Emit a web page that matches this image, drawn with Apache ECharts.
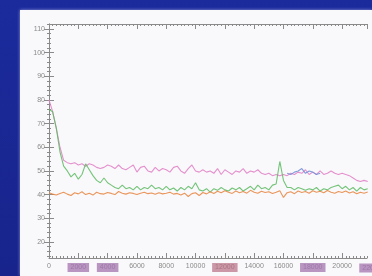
<!DOCTYPE html>
<html><head><meta charset="utf-8">
<script src="https://cdn.jsdelivr.net/npm/echarts@6/dist/echarts.min.js"></script>
<style>
html,body{margin:0;padding:0;width:372px;height:276px;overflow:hidden;background:linear-gradient(180deg,#1b2b9c 0%,#18248c 100%);}
#panel{position:absolute;left:20px;top:10px;width:352px;height:266px;background:#f9f9fb;box-shadow:0 0 3px rgba(220,220,255,0.6);}
#c{position:absolute;left:0;top:0;width:352px;height:266px;}
</style></head>
<body><div id="panel"><div id="c"></div></div>
<script>
// x positions (iterations)
const xs = [0,250,500,750,1000,1250,1500,1750,2000,2250,2500,2750,3000,3250,3500,3750,4000,4250,4500,4750,
5000,5250,5500,5750,6000,6250,6500,6750,7000,7250,7500,7750,8000,8250,8500,8750,9000,9250,9500,9750,
10000,10250,10500,10750,11000,11250,11500,11750,12000,12250,12500,12750,13000,13250,13500,13750,14000,14250,14500,14750,
15000,15250,15500,15750,16000,16250,16500,16750,17000,17250,17500,17750,18000,18250,18500,18750,19000,19250,19500,19750,
20000,20250,20500,20750,21000,21250,21500,21750];

const pinkVals = [80,75,68,60,54.5,53.5,53,53.5,52.5,53,
52,53,52.5,51.5,51,51.5,52.5,52,51,52.5,
51,50.5,51.5,52.5,49.5,51.5,52,50,49.5,51.5,
50,51,50.5,49.5,51.5,52,50,49,51,52.5,
50,49.5,50.5,49.5,50,49,51,48.5,50.5,49.5,
48.5,50,49.5,51,49,50,49.5,50.5,49,48.5,
49,48,48.5,48,48.5,48,49,48.5,49.5,49,
50.5,48.5,49.5,48.5,50,48.5,49,50,49,48.5,
49,48.5,48,47,46,45.5,46,45.5];

const greenVals = [76,75,68,58,52,50,47.5,49,46.5,48.5,
53,50.5,48,46,45,47,45,44,43,42.5,
44,42.5,43,42,43.5,42,43,42.5,44,42.5,
43,42,43.5,42,42.8,41.5,43,42,43.5,42.5,
45,42,41.5,42.5,41,42.5,41.8,43,42,41.5,
42.8,42,43,41.5,42.5,43.5,42,44,42.5,43,
42,44,44.5,54,46,43,43,42,43,42.5,
41.8,42.5,42,43,41.5,42.5,42,43,43.5,44,
42.5,43.5,42,43,41.5,43,42,42.5];

const orangeVals = [40.8,40.2,39.8,40.5,41.0,40.2,39.6,40.8,40.3,41.2,
40.0,40.6,39.8,41.0,40.4,40.2,40.9,40.5,40.0,41.3,
40.6,40.2,40.8,40.5,40.0,40.6,41.0,40.4,40.7,40.1,
40.8,40.3,40.6,41.0,40.2,40.5,39.8,40.6,39.2,40.4,
40.8,39.6,40.9,40.3,41.2,40.5,41.4,40.8,41.6,41.0,
40.5,41.5,40.8,41.3,40.6,41.8,41.0,40.6,41.4,40.9,
41.2,40.5,41.0,41.6,38.8,40.8,41.2,40.4,41.5,40.9,
41.3,40.6,41.6,41.0,41.4,40.8,41.7,41.0,40.6,41.3,
40.9,41.5,40.7,41.2,40.4,41.0,40.6,41.1];

const blueX = [16250,16500,16750,17000,17250,17500,17750,18000,18250,18500];
const blueVals = [49,48.5,49.5,50,51,49,50,49.5,48.5,49];

const yMajor = [20,30,40,50,60,70,80,90,100,110];
const yMinor = [14,16,18,20,22,24,26,28,30,32,34,36,38,40,42,44,46,48,50,52,54,56,58,60,62,64,66,68,70,72,74,76,78,80,82,84,86,88,90,92,94,96,98,100,102,104,106,108,110,112];
const xHighlight = {2000:'h',4000:'h',12000:'r',18000:'h'};

const pair = (xa, ya) => xa.map((x, i) => [x, ya[i]]);
const AX = '#8a8a8a';
const font = 'Liberation Sans';
const gridBox = {left:29, top:14, right:5, bottom:18};

const majorX = (pos, labels) => ({
  gridIndex:0, type:'value', position:pos, min:0, max:21700, interval:2000,
  axisLine:{show:true, lineStyle:{color:AX, width:1}},
  axisTick:{show:true, inside:true, length:5, lineStyle:{color:AX}},
  splitLine:{show:false},
  axisLabel: labels ? {
    show:true, showMaxLabel:false, fontSize:7, color:'#8a8a8a', fontFamily:font, margin:5,
    formatter: v => xHighlight[v] ? '{' + xHighlight[v] + '|' + v + '}' : String(v),
    rich:{
      h:{backgroundColor:'#b995c2', color:'#9d78a8', fontSize:7, padding:[1,3]},
      r:{backgroundColor:'#cc97a6', color:'#a87684', fontSize:7, padding:[1,3]}
    }
  } : {show:false}
});
const minorX = pos => ({
  gridIndex:1, type:'value', position:pos, min:0, max:21700, interval:250,
  axisLine:{show:false}, axisLabel:{show:false}, splitLine:{show:false},
  axisTick:{show:true, inside:true, length:2, lineStyle:{color:AX}}
});
const majorY = (pos, labels) => ({
  gridIndex:0, type:'value', position:pos, min:13.2, max:112.1,
  axisLine:{show:true, lineStyle:{color:AX, width:1}},
  axisTick:{show:true, inside:true, length:5, customValues:yMajor, lineStyle:{color:AX}},
  splitLine:{show:false},
  axisLabel: labels ? {show:true, customValues:yMajor, fontSize:7, color:'#8a8a8a', fontFamily:font, margin:4} : {show:false}
});
const minorY = pos => ({
  gridIndex:1, type:'value', position:pos, min:13.2, max:112.1,
  axisLine:{show:false}, axisLabel:{show:false}, splitLine:{show:false},
  axisTick:{show:true, inside:true, length:2, customValues:yMinor, lineStyle:{color:AX}}
});

const lineSeries = (name, data, color, z) => ({
  name, type:'line', xAxisIndex:0, yAxisIndex:0, data, symbol:'none',
  lineStyle:{color, width:1.1, opacity:0.85}, z, animation:false
});

const chart = echarts.init(document.getElementById('c'), null, {renderer:'canvas'});
chart.setOption({
  animation:false,
  backgroundColor:'transparent',
  grid:[Object.assign({}, gridBox), Object.assign({}, gridBox)],
  xAxis:[majorX('bottom', true), majorX('top', false), minorX('bottom'), minorX('top')],
  yAxis:[majorY('left', true), majorY('right', false), minorY('left'), minorY('right')],
  series:[
    lineSeries('pink', pair(xs, pinkVals), '#e07ec4', 3),
    lineSeries('blue', pair(blueX, blueVals), '#6f8ed6', 4),
    lineSeries('green', pair(xs, greenVals), '#5cba62', 5),
    lineSeries('orange', pair(xs, orangeVals), '#e8843e', 6)
  ],
  graphic:[{
    type:'text', x:352, y:258,
    style:{text:'22000', fill:'#9d78a8', font:'7px "Liberation Sans"', align:'center', verticalAlign:'middle',
      backgroundColor:'#b995c2', padding:[1,3]}
  }]
});
</script>
</body></html>
